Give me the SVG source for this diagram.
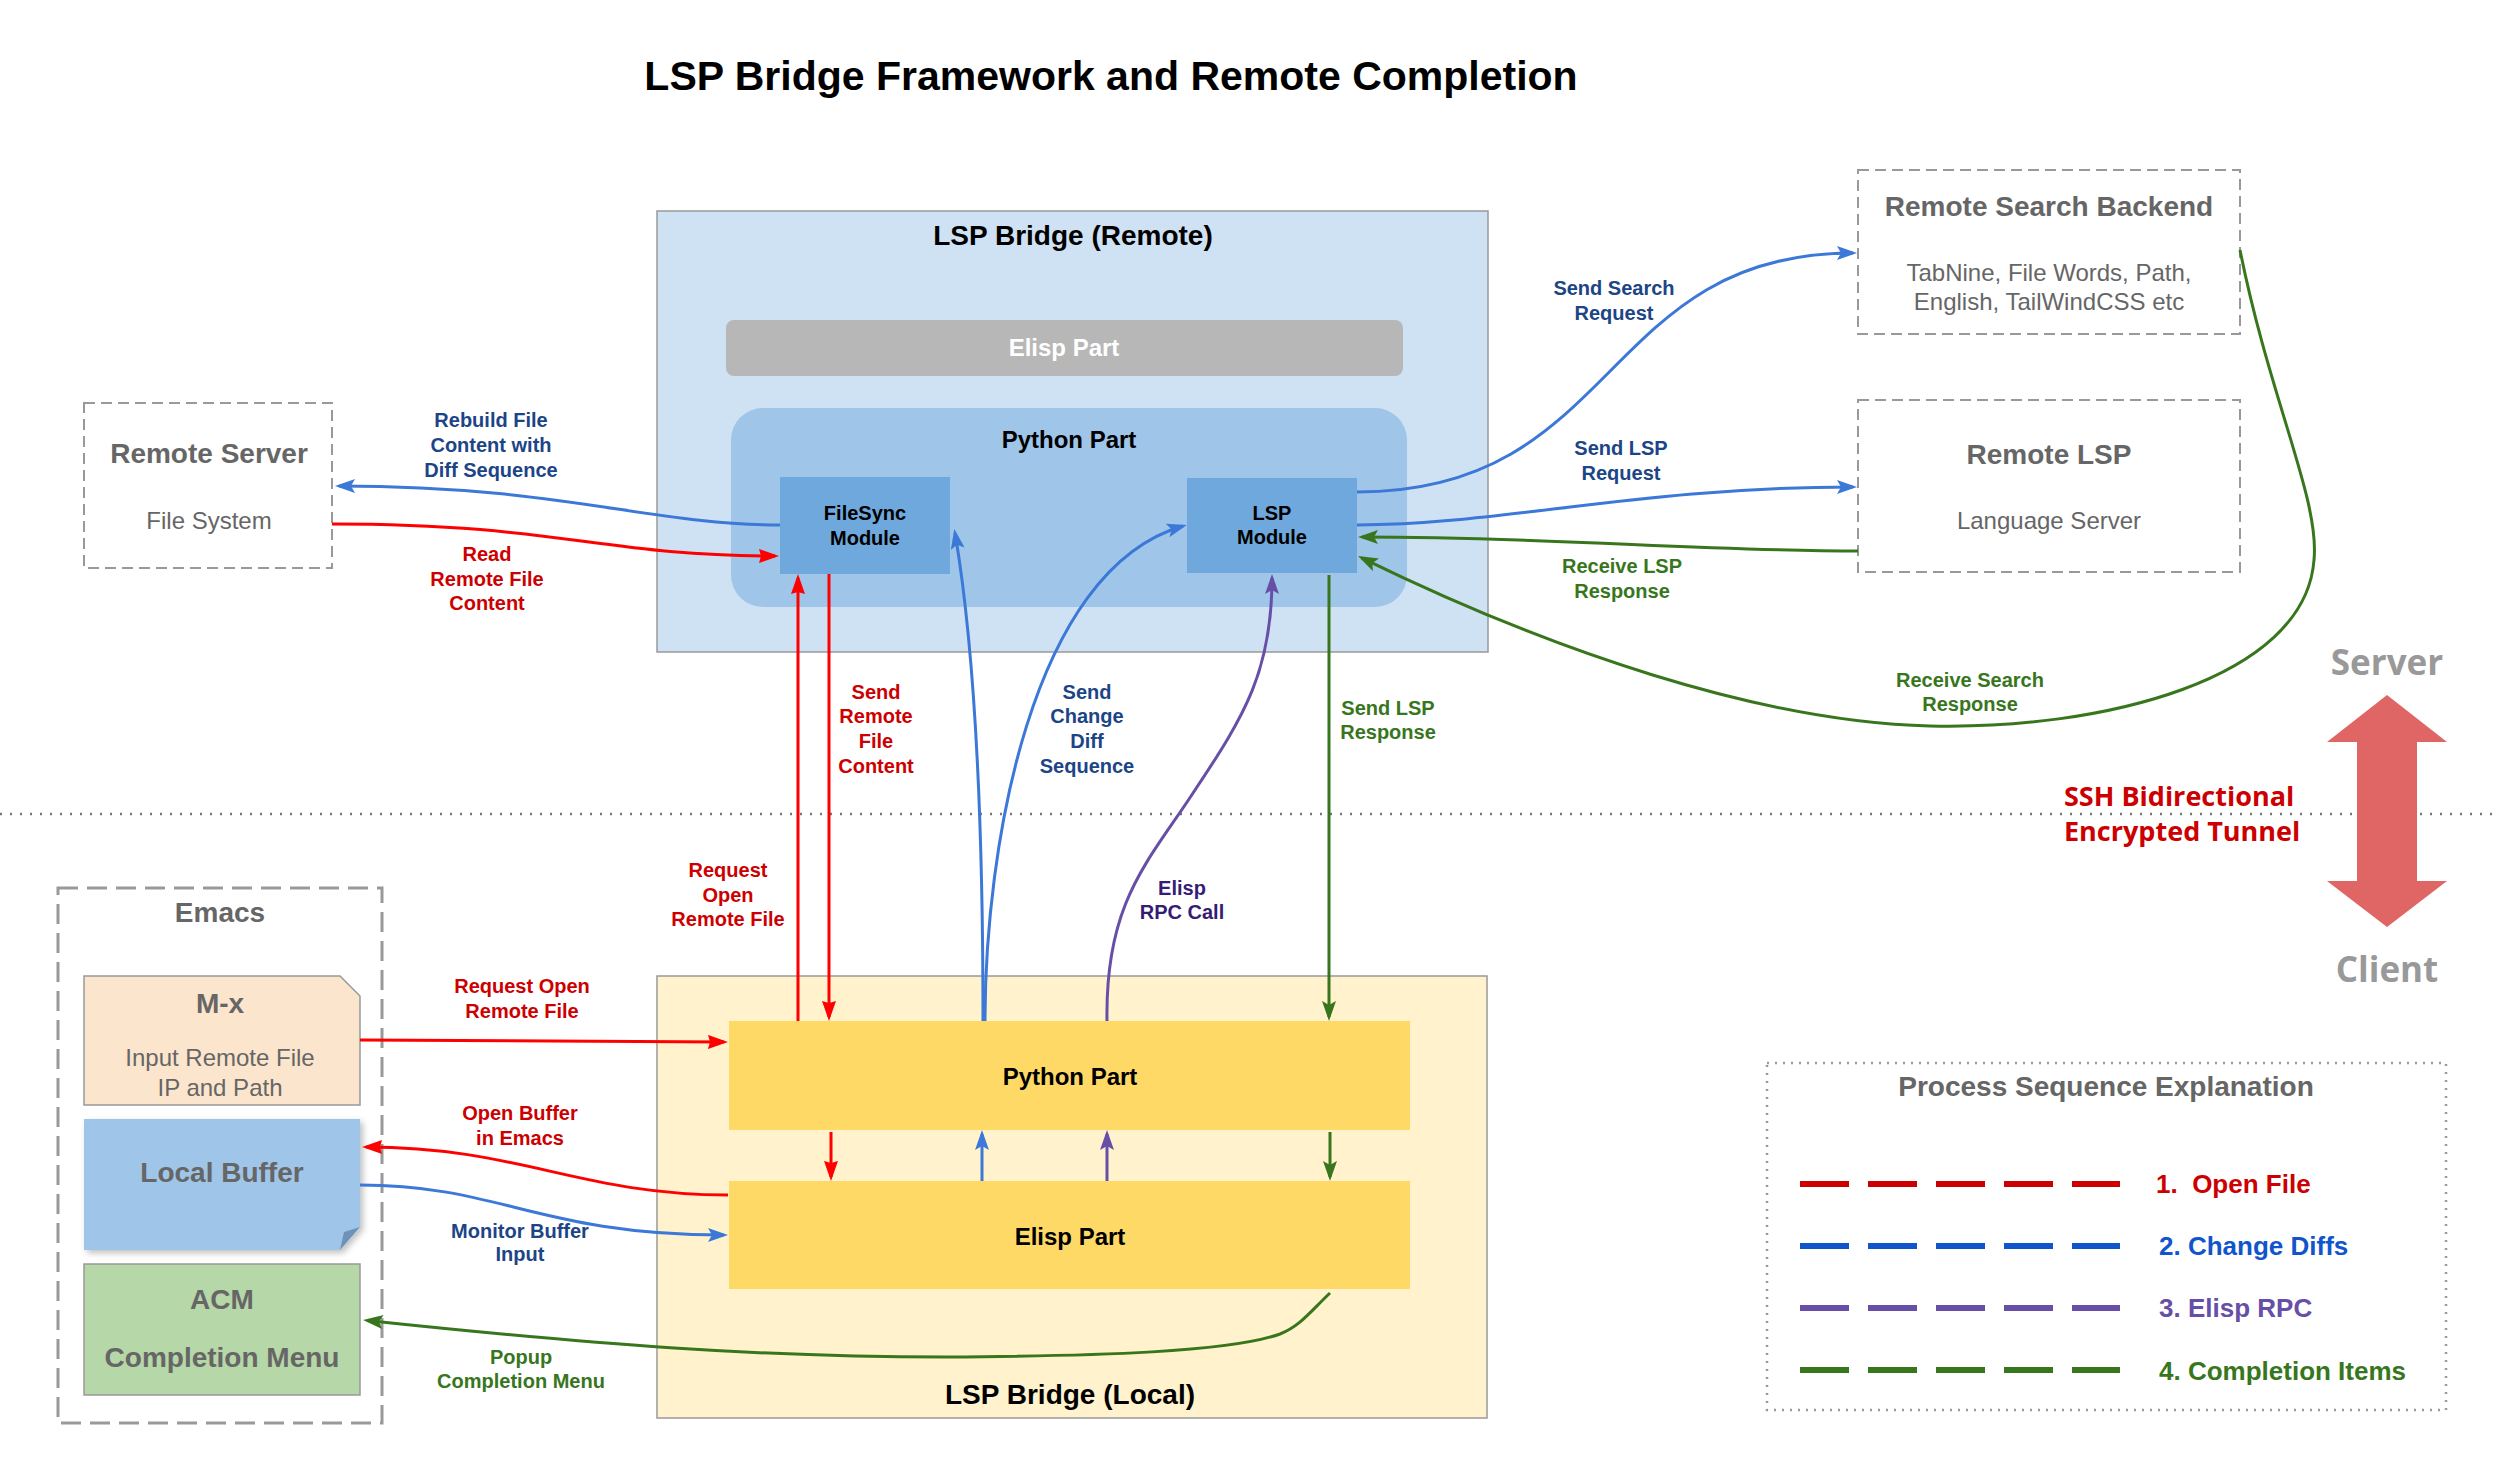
<svg xmlns="http://www.w3.org/2000/svg" width="2500" height="1464" viewBox="0 0 2500 1464">
<style>
text{font-family:"Liberation Sans",Arial,sans-serif;}
.b{font-weight:bold;}
.mid{text-anchor:middle;}
.lbl{font-size:20px;font-weight:bold;text-anchor:middle;}
.cb{fill:#1c4587;}
.cr{fill:#cc0000;}
.cg{fill:#38761d;}
.cp{fill:#351c75;}
.dash{fill:none;stroke:#999;stroke-width:2;stroke-dasharray:11 6;}
.ttl{font-size:28px;font-weight:bold;fill:#666;text-anchor:middle;}
.sub{font-size:24px;fill:#666;text-anchor:middle;}
.blk{font-weight:bold;fill:#000;text-anchor:middle;}
.c{fill:none;stroke-width:3;}
.blue{stroke:#3c78d8;}
.red{stroke:#ff0000;}
.green{stroke:#38761d;}
.purple{stroke:#674ea7;}
.ub{font-family:"Open Sans","Noto Sans",sans-serif;font-weight:bold;}
.leg{fill:none;stroke-width:6;stroke-dasharray:49 19;}
.legt{font-size:26px;font-weight:bold;}
</style>
<defs>
<marker id="ab" viewBox="0 0 20 14" refX="16" refY="7" markerWidth="20" markerHeight="14" markerUnits="userSpaceOnUse" orient="auto"><path d="M0,0 L20,7 L0,14 L4,7 Z" fill="#3c78d8"/></marker>
<marker id="ar" viewBox="0 0 20 14" refX="16" refY="7" markerWidth="20" markerHeight="14" markerUnits="userSpaceOnUse" orient="auto"><path d="M0,0 L20,7 L0,14 L2,7 Z" fill="#ff0000"/></marker>
<marker id="ag" viewBox="0 0 20 14" refX="16" refY="7" markerWidth="20" markerHeight="14" markerUnits="userSpaceOnUse" orient="auto"><path d="M0,0 L20,7 L0,14 L4,7 Z" fill="#38761d"/></marker>
<marker id="ap" viewBox="0 0 20 14" refX="16" refY="7" markerWidth="20" markerHeight="14" markerUnits="userSpaceOnUse" orient="auto"><path d="M0,0 L20,7 L0,14 L4,7 Z" fill="#674ea7"/></marker>
<filter id="sh" x="-10%" y="-10%" width="130%" height="130%"><feDropShadow dx="3" dy="3" stdDeviation="3" flood-color="#000" flood-opacity="0.25"/></filter>
</defs>
<rect width="2500" height="1464" fill="#fff"/>

<g id="title"><text x="1111" y="90" class="b mid" font-size="41">LSP Bridge Framework and Remote Completion</text></g>

<g id="tunnel">
<line x1="0" y1="814" x2="2500" y2="814" stroke="#777" stroke-width="2.5" stroke-dasharray="2 8"/>
<polygon points="2387,695 2447,742 2417,742 2417,881 2447,881 2387,927 2327,881 2357,881 2357,742 2327,742" fill="#e06666"/>
<text x="2387" y="675" class="ub mid" font-size="35" fill="#999">Server</text>
<text x="2387" y="982" class="ub mid" font-size="35" fill="#999">Client</text>
<text x="2064" y="806" class="ub" font-size="27" fill="#cc0000">SSH Bidirectional</text>
<text x="2064" y="841" class="ub" font-size="27" fill="#cc0000">Encrypted Tunnel</text>
</g>

<g id="remote-server">
<rect x="84" y="403" width="248" height="165" class="dash"/>
<text x="209" y="463" class="ttl">Remote Server</text>
<text x="209" y="529" class="sub">File System</text>
</g>

<g id="lsp-bridge-remote">
<rect x="657" y="211" width="831" height="441" fill="#cfe2f3" stroke="#999" stroke-width="1.5"/>
<text x="1073" y="245" class="blk" font-size="28">LSP Bridge (Remote)</text>
</g>
<g id="remote-elisp-part">
<rect x="726" y="320" width="677" height="56" rx="8" fill="#b7b7b7"/>
<text x="1064" y="356" class="b mid" font-size="24" fill="#fff">Elisp Part</text>
</g>
<g id="remote-python-part">
<rect x="731" y="408" width="676" height="199" rx="32" fill="#9fc5e8"/>
<text x="1069" y="448" class="blk" font-size="24">Python Part</text>
</g>
<g id="filesync-module">
<rect x="780" y="477" width="170" height="97" fill="#6fa8dc"/>
<text x="865" y="520" class="blk" font-size="20">FileSync</text>
<text x="865" y="545" class="blk" font-size="20">Module</text>
</g>
<g id="lsp-module">
<rect x="1187" y="478" width="170" height="95" fill="#6fa8dc"/>
<text x="1272" y="520" class="blk" font-size="20">LSP</text>
<text x="1272" y="544" class="blk" font-size="20">Module</text>
</g>

<g id="remote-search-backend">
<rect x="1858" y="170" width="382" height="164" class="dash"/>
<text x="2049" y="216" class="ttl">Remote Search Backend</text>
<text x="2049" y="281" class="sub">TabNine, File Words, Path,</text>
<text x="2049" y="310" class="sub">English, TailWindCSS etc</text>
</g>
<g id="remote-lsp">
<rect x="1858" y="400" width="382" height="172" class="dash"/>
<text x="2049" y="464" class="ttl">Remote LSP</text>
<text x="2049" y="529" class="sub">Language Server</text>
</g>

<g id="emacs">
<rect x="58" y="888" width="324" height="535" fill="none" stroke="#999" stroke-width="3" stroke-dasharray="20 9"/>
<text x="220" y="922" class="ttl">Emacs</text>
</g>
<g id="mx">
<polygon points="84,976 340,976 360,996 360,1105 84,1105" fill="#fce5cd" stroke="#999" stroke-width="1.5"/>
<text x="220" y="1013" class="ttl" font-size="24">M-x</text>
<text x="220" y="1066" class="sub">Input Remote File</text>
<text x="220" y="1096" class="sub">IP and Path</text>
</g>
<g id="local-buffer">
<polygon points="84,1119 360,1119 360,1227 340,1250 84,1250" fill="#9fc5e8" filter="url(#sh)"/>
<polygon points="360,1227 340,1250 344,1232" fill="#6f93b8"/>
<text x="222" y="1182" class="ttl" font-size="24">Local Buffer</text>
</g>
<g id="acm">
<rect x="84" y="1264" width="276" height="131" fill="#b6d7a8" stroke="#999" stroke-width="1.5"/>
<text x="222" y="1309" class="ttl" font-size="24">ACM</text>
<text x="222" y="1367" class="ttl" font-size="24">Completion Menu</text>
</g>

<g id="lsp-bridge-local">
<rect x="657" y="976" width="830" height="442" fill="#fff2cc" stroke="#999" stroke-width="1.5"/>
<text x="1070" y="1404" class="blk" font-size="28">LSP Bridge (Local)</text>
</g>
<g id="local-python-part">
<rect x="729" y="1021" width="681" height="109" fill="#ffd966"/>
<text x="1070" y="1085" class="blk" font-size="24">Python Part</text>
</g>
<g id="local-elisp-part">
<rect x="729" y="1181" width="681" height="108" fill="#ffd966"/>
<text x="1070" y="1245" class="blk" font-size="24">Elisp Part</text>
</g>

<g id="legend">
<rect x="1767" y="1063" width="679" height="347" fill="none" stroke="#999" stroke-width="2.5" stroke-dasharray="2 6"/>
<text x="2106" y="1096" class="ttl">Process Sequence Explanation</text>
<line x1="1800" y1="1184" x2="2120" y2="1184" class="leg" stroke="#cc0000"/>
<line x1="1800" y1="1246" x2="2120" y2="1246" class="leg" stroke="#1155cc"/>
<line x1="1800" y1="1308" x2="2120" y2="1308" class="leg" stroke="#674ea7"/>
<line x1="1800" y1="1370" x2="2120" y2="1370" class="leg" stroke="#38761d"/>
<text x="2156" y="1193" class="legt" fill="#cc0000" xml:space="preserve">1.  Open File</text>
<text x="2159" y="1255" class="legt" fill="#1155cc">2. Change Diffs</text>
<text x="2159" y="1317" class="legt" fill="#674ea7">3. Elisp RPC</text>
<text x="2159" y="1380" class="legt" fill="#38761d">4. Completion Items</text>
</g>

<g id="connectors">
<path d="M780,525 C650,525 560,486 339,486" class="c blue" marker-end="url(#ab)"/>
<path d="M332,524 C560,524 600,556 775,556" class="c red" marker-end="url(#ar)"/>
<path d="M1357,492 C1620,492 1600,253 1853,253" class="c blue" marker-end="url(#ab)"/>
<path d="M1357,525 C1500,525 1640,487 1853,487" class="c blue" marker-end="url(#ab)"/>
<path d="M1858,551 C1700,551 1550,537 1362,537" class="c green" marker-end="url(#ag)"/>
<path d="M2240,250 C2270,400 2320,500 2314,560 C2305,680 2100,730 1930,726 C1760,722 1550,650 1361.6,557.8" class="c green" marker-end="url(#ag)"/>
<path d="M798,1021 L798,578" class="c red" marker-end="url(#ar)"/>
<path d="M829,574 L829,1017" class="c red" marker-end="url(#ar)"/>
<path d="M983,1021 C983,820 975,650 955,533" class="c blue" marker-end="url(#ab)"/>
<path d="M985,1021 C985,850 1030,570 1183,526" class="c blue" marker-end="url(#ab)"/>
<path d="M1107,1021 C1105,900 1150,860 1195,790 C1245,715 1272,670 1272,578" class="c purple" marker-end="url(#ap)"/>
<path d="M1329,575 L1329,1017" class="c green" marker-end="url(#ag)"/>
<path d="M831,1132 L831,1177" class="c red" marker-end="url(#ar)"/>
<path d="M982,1181 L982,1134" class="c blue" marker-end="url(#ab)"/>
<path d="M1107,1181 L1107,1134" class="c purple" marker-end="url(#ap)"/>
<path d="M1330,1132 L1330,1177" class="c green" marker-end="url(#ag)"/>
<path d="M360,1040 L724,1042" class="c red" marker-end="url(#ar)"/>
<path d="M728,1195 C580,1195 520,1147 366,1147" class="c red" marker-end="url(#ar)"/>
<path d="M360,1185 C500,1185 540,1235 724,1235" class="c blue" marker-end="url(#ab)"/>
<path d="M1330,1293 C1310,1312 1300,1326 1280,1334 C1230,1352 1100,1356 946,1357 C760,1357 600,1345 367,1320.4" class="c green" marker-end="url(#ag)"/>
</g>

<g id="connector-labels">
<text class="lbl cb"><tspan x="491" y="427">Rebuild File</tspan><tspan x="491" y="452">Content with</tspan><tspan x="491" y="477">Diff Sequence</tspan></text>
<text class="lbl cr"><tspan x="487" y="561">Read</tspan><tspan x="487" y="586">Remote File</tspan><tspan x="487" y="610">Content</tspan></text>
<text class="lbl cb"><tspan x="1614" y="295">Send Search</tspan><tspan x="1614" y="320">Request</tspan></text>
<text class="lbl cb"><tspan x="1621" y="455">Send LSP</tspan><tspan x="1621" y="480">Request</tspan></text>
<text class="lbl cg"><tspan x="1622" y="573">Receive LSP</tspan><tspan x="1622" y="598">Response</tspan></text>
<text class="lbl cg"><tspan x="1970" y="687">Receive Search</tspan><tspan x="1970" y="711">Response</tspan></text>
<text class="lbl cr"><tspan x="876" y="699">Send</tspan><tspan x="876" y="723">Remote</tspan><tspan x="876" y="748">File</tspan><tspan x="876" y="773">Content</tspan></text>
<text class="lbl cb"><tspan x="1087" y="699">Send</tspan><tspan x="1087" y="723">Change</tspan><tspan x="1087" y="748">Diff</tspan><tspan x="1087" y="773">Sequence</tspan></text>
<text class="lbl cg"><tspan x="1388" y="715">Send LSP</tspan><tspan x="1388" y="739">Response</tspan></text>
<text class="lbl cr"><tspan x="728" y="877">Request</tspan><tspan x="728" y="902">Open</tspan><tspan x="728" y="926">Remote File</tspan></text>
<text class="lbl cp"><tspan x="1182" y="895">Elisp</tspan><tspan x="1182" y="919">RPC Call</tspan></text>
<text class="lbl cr"><tspan x="522" y="993">Request Open</tspan><tspan x="522" y="1018">Remote File</tspan></text>
<text class="lbl cr"><tspan x="520" y="1120">Open Buffer</tspan><tspan x="520" y="1145">in Emacs</tspan></text>
<text class="lbl cb"><tspan x="520" y="1238">Monitor Buffer</tspan><tspan x="520" y="1261">Input</tspan></text>
<text class="lbl cg"><tspan x="521" y="1364">Popup</tspan><tspan x="521" y="1388">Completion Menu</tspan></text>
</g>
</svg>
